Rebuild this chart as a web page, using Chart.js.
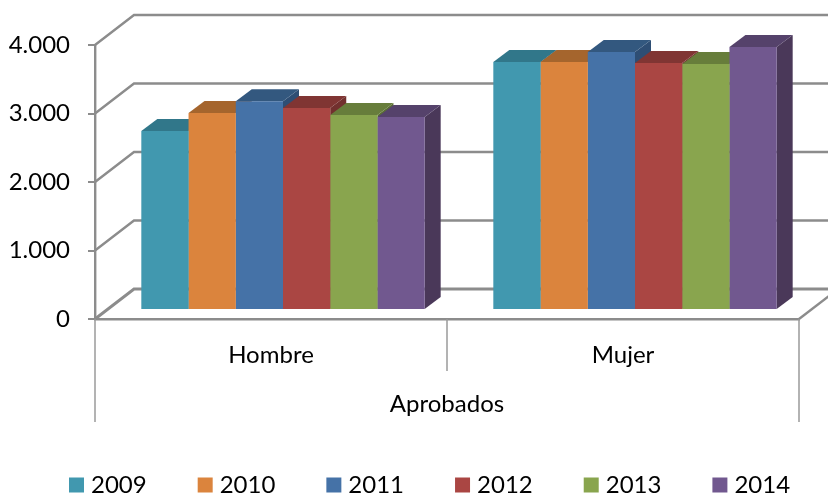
<!DOCTYPE html>
<html><head><meta charset="utf-8">
<script src="https://cdn.jsdelivr.net/npm/chart.js@4"></script>
<style>html,body{margin:0;padding:0;background:#fff;overflow:hidden}canvas{display:block}</style>
</head><body><canvas id="c" width="828" height="493"></canvas>
<script>
const categories = ['Hombre', 'Mujer'];
const groupTitle = 'Aprobados';
const seriesNames = ['2009', '2010', '2011', '2012', '2013', '2014'];
const v2009 = [2614, 3620];
const v2010 = [2876, 3620];
const v2011 = [3047, 3765];
const v2012 = [2949, 3606];
const v2013 = [2847, 3591];
const v2014 = [2819, 3838];
const seriesValues = [v2009, v2010, v2011, v2012, v2013, v2014];
const frontColors = ['#4198AF', '#DB843D', '#4572A7', '#AA4643', '#89A54E', '#71588F'];
const topColors = ['#31778A', '#A5652D', '#33587F', '#803533', '#677D3B', '#55426B'];
const sideColors = ['#2B6878', '#8F5727', '#2E4E74', '#72302E', '#5B6F34', '#4A3859'];

const FONT = 'Lato, Carlito, sans-serif';
const AXIS = '#8c8c8c';
const WALL = {dx: 39, dy: 30};
const BAR_OFFSET = {dx: 12, dy: 9};
const BAR_DEPTH = {dx: 16, dy: 12};
const LEGEND_SHIFT = 18;

function line(ctx, pts, color, w) {
  ctx.beginPath();
  ctx.moveTo(pts[0][0], pts[0][1]);
  for (let i = 1; i < pts.length; i++) ctx.lineTo(pts[i][0], pts[i][1]);
  ctx.strokeStyle = color; ctx.lineWidth = w; ctx.stroke();
}
function poly(ctx, pts, color) {
  ctx.beginPath();
  ctx.moveTo(pts[0][0], pts[0][1]);
  for (let i = 1; i < pts.length; i++) ctx.lineTo(pts[i][0], pts[i][1]);
  ctx.closePath(); ctx.fillStyle = color; ctx.fill();
}

const depthPlugin = {
  id: 'depth',
  beforeLayout(chart) {
    const lg = chart.legend;
    if (lg && !lg._wrapped) {
      lg._wrapped = true;
      const origFit = lg.fit;
      lg.fit = function () {
        const keep = this.maxWidth;
        this.maxWidth = 2000;
        origFit.call(this);
        this.maxWidth = keep;
        this.width = keep;
        this.height = 77;
      };
      const origDraw = lg.draw;
      lg.draw = function () {
        const l = this.left, r = this.right, t = this.top;
        this.left = l + LEGEND_SHIFT;
        this.right = 2000;
        this.top = t + 1;
        origDraw.call(this);
        this.left = l; this.right = r; this.top = t;
      };
    }
  },
  beforeDatasetsDraw(chart) {
    const ctx = chart.ctx, {x, y} = chart.scales;
    const a = chart.chartArea;
    ctx.save();
    y.ticks.forEach(t => {
      const py = y.getPixelForValue(t.value);
      const w = t.value === 0 ? 3 : 2.4;
      line(ctx, [[a.left, py], [a.left + WALL.dx, py - WALL.dy], [chart.width, py - WALL.dy]], AXIS, w);
    });
    const by = y.getPixelForValue(0);
    line(ctx, [[a.right, by], [a.right + WALL.dx, by - WALL.dy]], AXIS, 2.4);
    const mid = (x.getPixelForValue(0) + x.getPixelForValue(1)) / 2;
    line(ctx, [[mid, by], [mid, 371]], '#9a9a9a', 1.5);
    line(ctx, [[a.left, by], [a.left, 422]], '#9a9a9a', 1.5);
    line(ctx, [[a.right, by], [a.right, 422]], '#9a9a9a', 1.5);
    ctx.restore();

    ctx.save();
    ctx.translate(BAR_OFFSET.dx, -BAR_OFFSET.dy);
    for (let i = 0; i < categories.length; i++) {
      seriesValues.forEach((_, d) => {
        const el = chart.getDatasetMeta(d).data[i];
        const l = el.x - el.width / 2, r = el.x + el.width / 2;
        const X = BAR_DEPTH.dx, Y = BAR_DEPTH.dy;
        poly(ctx, [[r, el.y], [r + X, el.y - Y], [r + X, el.base - Y], [r, el.base]], sideColors[d]);
        poly(ctx, [[l, el.y], [l + X, el.y - Y], [r + X, el.y - Y], [r, el.y]], topColors[d]);
      });
    }
  },
  afterDatasetsDraw(chart) {
    chart.ctx.restore();
  }
};

new Chart(document.getElementById('c'), {
  type: 'bar',
  data: {
    labels: categories,
    datasets: seriesNames.map((n, d) => ({
      label: n,
      data: seriesValues[d],
      backgroundColor: frontColors[d],
      borderWidth: 0,
      clip: false,
      categoryPercentage: 0.805,
      barPercentage: 1
    }))
  },
  plugins: [depthPlugin],
  options: {
    responsive: false,
    animation: false,
    layout: {padding: {left: 0, right: 29, top: 45, bottom: 0}},
    plugins: {
      title: {display: false},
      tooltip: {enabled: false},
      legend: {
        position: 'bottom',
        align: 'start',
        labels: {
          color: '#000',
          font: {family: FONT, size: 24},
          boxWidth: 5,
          boxHeight: 5,
          padding: 56,
          generateLabels(chart) {
            return chart.data.datasets.map((ds, i) => ({
              text: ds.label,
              fillStyle: frontColors[i],
              strokeStyle: frontColors[i],
              lineWidth: 10,
              datasetIndex: i,
              hidden: false
            }));
          }
        }
      }
    },
    scales: {
      x: {
        afterFit(s) { s.height = 97; },
        grid: {display: false, drawTicks: false},
        border: {display: true, color: AXIS, width: 2.4},
        ticks: {color: '#000', font: {family: FONT, size: 24}, padding: 22, maxRotation: 0},
        title: {display: true, text: groupTitle, color: '#000', font: {family: FONT, size: 24, lineHeight: 1}, padding: 0}
      },
      y: {
        min: 0,
        max: 4000,
        afterFit(s) { s.width = 95; },
        grid: {drawOnChartArea: false, color: AXIS, lineWidth: 2, tickLength: 7},
        border: {display: true, color: AXIS, width: 2.4},
        ticks: {
          stepSize: 1000,
          color: '#000',
          font: {family: FONT, size: 24},
          padding: 18,
          callback: v => String(v).replace(/\B(?=(\d{3})+$)/g, '.')
        }
      }
    }
  }
});
</script>
</body></html>
